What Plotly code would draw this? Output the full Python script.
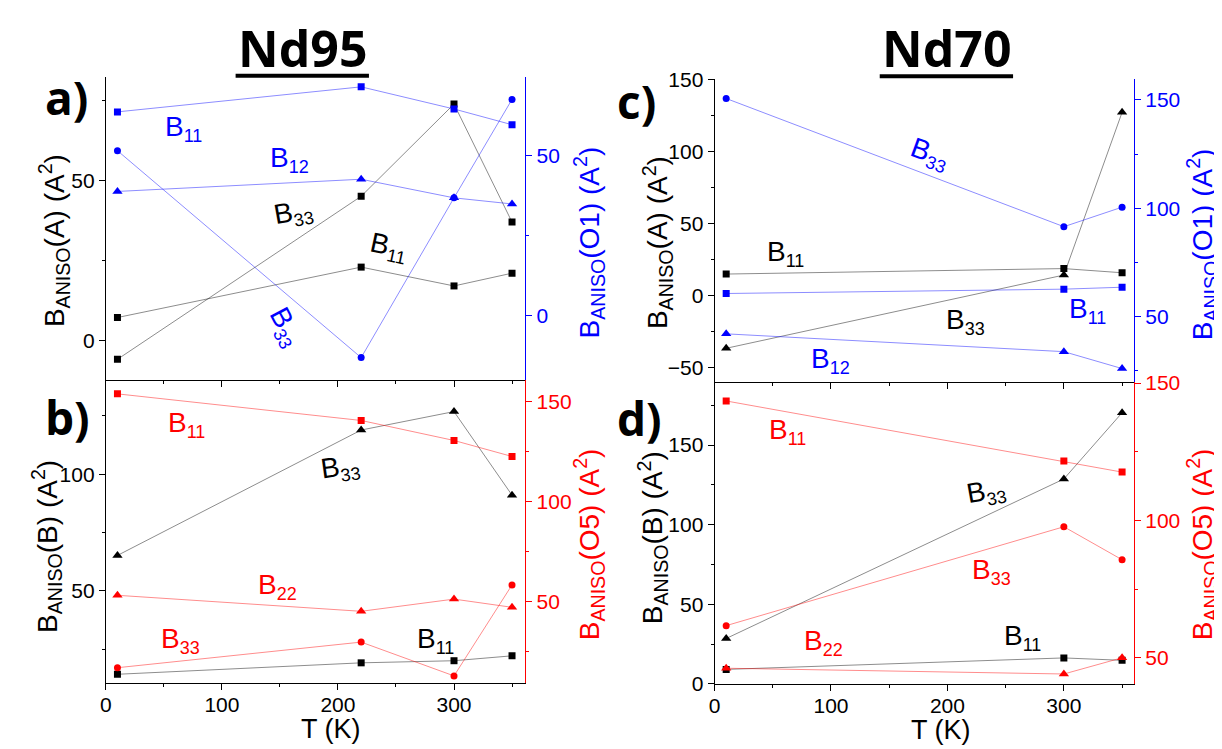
import plotly.graph_objects as go

W, H = 1222, 749
FONT = "Liberation Sans, Arial, sans-serif"
BOLD = "Open Sans, Liberation Sans, sans-serif"
BLUE, RED, BLACK = "#0000ff", "#ff0000", "#000000"

# ---------------- data ----------------
T_nd95 = [10, 220, 300, 350]
T_nd70 = [10, 300, 350]
x_ticks = [0, 100, 200, 300]

# a) Nd95, site A (left axis) and O1 (right axis)
a_A_B11 = [7.1, 22.9, 17.0, 21.0]
a_A_B33 = [-6.0, 45.1, 74.0, 37.0]
a_O1_B11 = [63.6, 71.4, 64.5, 59.6]
a_O1_B12 = [38.8, 42.6, 36.8, 34.9]
a_O1_B33 = [51.5, -13.0, 36.8, 67.5]

# b) Nd95, site B (left axis) and O5 (right axis)
b_B_B33 = [65.2, 118.9, 126.8, 91.0]
b_B_B11 = [14.3, 19.2, 20.1, 22.2]
b_O5_B11 = [153.9, 140.6, 130.6, 122.6]
b_O5_B22 = [53.2, 45.2, 51.3, 47.2]
b_O5_B33 = [17.0, 29.8, 12.9, 58.4]

# c) Nd70, site A (left axis) and O1 (right axis)
c_A_B11 = [15.0, 18.8, 15.9]
c_A_B33 = [-36.5, 14.3, 127.2]
c_O1_B33 = [150.6, 91.5, 100.5]
c_O1_B11 = [60.7, 62.7, 63.6]
c_O1_B12 = [42.1, 33.9, 26.1]

# d) Nd70, site B (left axis) and O5 (right axis)
d_B_B33 = [28.5, 128.7, 170.3]
d_B_B11 = [9.1, 16.3, 14.8]
d_O5_B11 = [143.5, 121.6, 117.6]
d_O5_B33 = [61.7, 97.7, 85.7]
d_O5_B22 = [46.2, 44.1, 50.0]

# ---------------- helpers ----------------
def fx(px):
    return px / W

def fy(py):
    return 1 - py / H

LINE_COL = {BLACK: "rgba(0,0,0,0.45)", BLUE: "rgba(0,0,255,0.45)", RED: "rgba(255,0,0,0.45)"}

def series(x, y, color, symbol, xa, ya, name):
    size = 9 if symbol == "triangle-up" else 7
    return go.Scatter(
        x=x, y=y, mode="lines+markers", name=name, xaxis=xa, yaxis=ya,
        line=dict(color=LINE_COL[color], width=1),
        marker=dict(symbol=symbol, size=size, color=color, line=dict(width=0)),
        showlegend=False,
    )

def yax(dom, rng, color, side="left", overlaying=None, anchor=None):
    d = dict(
        domain=dom, range=rng, side=side, anchor=anchor,
        tick0=0, dtick=50, ticks="outside", ticklen=6, tickwidth=1, tickcolor=color,
        showline=True, linecolor=color, linewidth=1,
        showgrid=False, zeroline=False,
        tickfont=dict(family=FONT, size=21, color=color),
        minor=dict(ticks="outside", tick0=0, dtick=25, ticklen=3, tickcolor=color, showgrid=False),
    )
    if overlaying:
        d["overlaying"] = overlaying
    return d

def xax(dom, rng, anchor, labels=True, side="bottom", ticks="outside", overlaying=None):
    d = dict(
        domain=dom, range=rng, anchor=anchor, side=side,
        tickvals=x_ticks, ticks=ticks, ticklen=6, tickwidth=1, tickcolor=BLACK,
        showline=True, linecolor=BLACK, linewidth=1,
        showgrid=False, zeroline=False, showticklabels=labels,
        ticklabelstandoff=-3,
        tickfont=dict(family=FONT, size=21, color=BLACK),
        minor=dict(ticks=ticks, tick0=0, dtick=50, ticklen=3, tickcolor=BLACK, showgrid=False),
    )
    if overlaying:
        d["overlaying"] = overlaying
    return d

# panel geometry (pixels)
XL = [fx(92.3), fx(513.9)]
XR = [fx(704), fx(1125.6)]
YA = [fy(372), fy(60)]
YB = [fy(684), fy(372)]
YC = [fy(374), fy(62)]
YD = [fy(685), fy(374)]

fig = go.Figure()

# a)
fig.add_trace(series(T_nd95, a_A_B11, BLACK, "square", "x", "y", "A B11"))
fig.add_trace(series(T_nd95, a_A_B33, BLACK, "square", "x", "y", "A B33"))
fig.add_trace(series(T_nd95, a_O1_B11, BLUE, "square", "x", "y2", "O1 B11"))
fig.add_trace(series(T_nd95, a_O1_B12, BLUE, "triangle-up", "x", "y2", "O1 B12"))
fig.add_trace(series(T_nd95, a_O1_B33, BLUE, "circle", "x", "y2", "O1 B33"))
# b)
fig.add_trace(series(T_nd95, b_B_B33, BLACK, "triangle-up", "x2", "y3", "B B33"))
fig.add_trace(series(T_nd95, b_B_B11, BLACK, "square", "x2", "y3", "B B11"))
fig.add_trace(series(T_nd95, b_O5_B11, RED, "square", "x2", "y4", "O5 B11"))
fig.add_trace(series(T_nd95, b_O5_B22, RED, "triangle-up", "x2", "y4", "O5 B22"))
fig.add_trace(series(T_nd95, b_O5_B33, RED, "circle", "x2", "y4", "O5 B33"))
# c)
fig.add_trace(series(T_nd70, c_A_B11, BLACK, "square", "x3", "y5", "A B11"))
fig.add_trace(series(T_nd70, c_A_B33, BLACK, "triangle-up", "x3", "y5", "A B33"))
fig.add_trace(series(T_nd70, c_O1_B33, BLUE, "circle", "x3", "y6", "O1 B33"))
fig.add_trace(series(T_nd70, c_O1_B11, BLUE, "square", "x3", "y6", "O1 B11"))
fig.add_trace(series(T_nd70, c_O1_B12, BLUE, "triangle-up", "x3", "y6", "O1 B12"))
# d)
fig.add_trace(series(T_nd70, d_B_B33, BLACK, "triangle-up", "x4", "y7", "B B33"))
fig.add_trace(series(T_nd70, d_B_B11, BLACK, "square", "x4", "y7", "B B11"))
fig.add_trace(series(T_nd70, d_O5_B11, RED, "square", "x4", "y8", "O5 B11"))
fig.add_trace(series(T_nd70, d_O5_B33, RED, "circle", "x4", "y8", "O5 B33"))
fig.add_trace(series(T_nd70, d_O5_B22, RED, "triangle-up", "x4", "y8", "O5 B22"))

layout = dict(
    width=W, height=H, margin=dict(l=0, r=0, t=0, b=0),
    paper_bgcolor="white", plot_bgcolor="white", showlegend=False,
    xaxis=xax(XL, [0, 361.5], "y", labels=False),
    xaxis2=xax(XL, [0, 361.5], "y3"),
    xaxis3=xax(XR, [0, 360.3], "y5", labels=False),
    xaxis4=xax(XR, [0, 360.3], "y7"),
    xaxis5=xax(XL, [0, 361.5], "y", labels=False, side="top", ticks="inside", overlaying="x"),
    xaxis6=xax(XR, [0, 360.3], "y5", labels=False, side="top", ticks="inside", overlaying="x3"),
    yaxis=yax(YA, [-12.5, 82.4], BLACK, anchor="x"),
    yaxis2=yax(YA, [-20, 74.4], BLUE, side="right", overlaying="y", anchor="x"),
    yaxis3=yax(YB, [10.6, 140.3], BLACK, anchor="x2"),
    yaxis4=yax(YB, [9.4, 160.8], RED, side="right", overlaying="y3", anchor="x2"),
    yaxis5=yax(YC, [-59.9, 150.2], BLACK, anchor="x3"),
    yaxis6=yax(YC, [19.9, 159.5], BLUE, side="right", overlaying="y5", anchor="x3"),
    yaxis7=yax(YD, [0, 189.6], BLACK, anchor="x4"),
    yaxis8=yax(YD, [40.5, 150.4], RED, side="right", overlaying="y7", anchor="x4"),
)
fig.update_layout(**layout)

def ann(text, x, y, color, size=28, angle=0, family=FONT):
    return dict(text=text, x=fx(x), y=fy(y), xref="paper", yref="paper", showarrow=False,
                font=dict(family=family, size=size, color=color), textangle=angle,
                xanchor="center", yanchor="middle")

def B(ij):
    return "B<sub><span style='font-size:18px'>%s</span></sub>" % ij

anns = [
    # titles and panel letters
    ann("<b>Nd95</b>", 289.7, 30, BLACK, size=50, family=BOLD),
    ann("<b>Nd70</b>", 937, 30, BLACK, size=50, family=BOLD),
    ann("<b>a)</b>", 53, 80, BLACK, size=46, family=BOLD),
    ann("<b>b)</b>", 54, 410, BLACK, size=46, family=BOLD),
    ann("<b>c)</b>", 626, 84, BLACK, size=46, family=BOLD),
    ann("<b>d)</b>", 629, 411, BLACK, size=46, family=BOLD),
    # axis titles
    ann("B<sub>ANISO</sub>(A) (A<sup>2</sup>)", 41, 228, BLACK, angle=-90),
    ann("B<sub>ANISO</sub>(O1) (A<sup>2</sup>)", 578, 230, BLUE, angle=-90),
    ann("B<sub>ANISO</sub>(B) (A<sup>2</sup>)", 33, 543, BLACK, angle=-90),
    ann("B<sub>ANISO</sub>(O5) (A<sup>2</sup>)", 578, 541, RED, angle=-90),
    ann("B<sub>ANISO</sub>(A) (A<sup>2</sup>)", 647, 230, BLACK, angle=-90),
    ann("B<sub>ANISO</sub>(O1) (A<sup>2</sup>)", 1194, 232, BLUE, angle=-90),
    ann("B<sub>ANISO</sub>(B) (A<sup>2</sup>)", 642, 534, BLACK, angle=-90),
    ann("B<sub>ANISO</sub>(O5) (A<sup>2</sup>)", 1194, 541, RED, angle=-90),
    ann("T (K)", 319, 731, BLACK, size=27),
    ann("T (K)", 932, 732.5, BLACK, size=27),
    # series labels, panel a
    ann(B("11"), 170, 113, BLUE),
    ann(B("12"), 277, 145, BLUE),
    ann(B("33"), 281, 200, BLACK, angle=-10),
    ann(B("11"), 376, 235, BLACK, angle=12),
    ann(B("33"), 272, 318, BLUE, angle=62),
    # panel b
    ann(B("11"), 173, 418, RED),
    ann(B("33"), 328, 463, BLACK, angle=-8),
    ann(B("22"), 265, 585, RED),
    ann(B("33"), 167, 640, RED),
    ann(B("11"), 424, 640, BLACK),
    # panel c
    ann(B("33"), 920, 140, BLUE, angle=20),
    ann(B("11"), 775, 242, BLACK),
    ann(B("33"), 956, 312, BLACK),
    ann(B("11"), 1079, 300, BLUE),
    ann(B("12"), 821, 352, BLUE),
    # panel d
    ann(B("11"), 777, 425, RED),
    ann(B("33"), 977, 488, BLACK, angle=-10),
    ann(B("33"), 982, 569, RED),
    ann(B("22"), 813, 642, RED),
    ann(B("11"), 1013, 637, BLACK),
]
fig.update_layout(annotations=anns)

# title underlines
fig.add_shape(type="line", xref="paper", yref="paper", x0=fx(222.7), x1=fx(356.7), y0=fy(58.5), y1=fy(58.5),
              line=dict(color=BLACK, width=4))
fig.add_shape(type="line", xref="paper", yref="paper", x0=fx(870), x1=fx(1004), y0=fy(59), y1=fy(59),
              line=dict(color=BLACK, width=4))

fig.write_html("out.html")
